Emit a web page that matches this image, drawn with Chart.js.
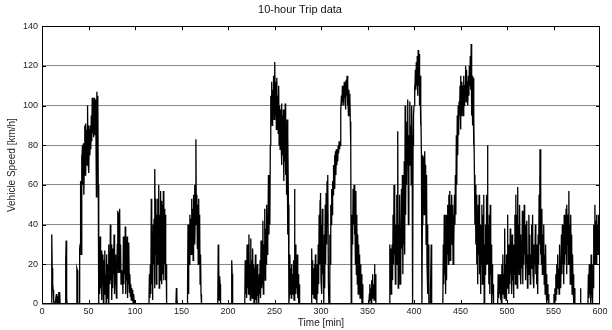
<!DOCTYPE html>
<html lang="en">
<head>
<meta charset="UTF-8">
<title>10-hour Trip data</title>
<script src="https://cdn.jsdelivr.net/npm/chart.js@4/dist/chart.umd.min.js"></script>
<style>
    html, body { margin: 0; padding: 0; background: #fff; }
    #wrap { width: 612px; height: 330px; }
</style>
</head>
<body>
<div id="wrap"><canvas id="tripChart" width="612" height="330"></canvas></div>
<script>
// speeds, one sample every half minute, per driving leg
const sampleStep = 0.5;
const legStart = [10, 37, 61.5, 115, 144, 156, 189, 203.5, 218, 289.5, 351.5, 373.5, 431, 490, 550, 578.5, 587];

const legA = [0,35,18,10,7,2,0,0,0,0,0,5,0,4,0,0,6,2,6,0,0,0,0,0,0,0,0,0,0,0,0,22,32,3,0];
const legB = [0,18,17,0,0,0,0,28,30,62,25,75,70,80,60,81,55,72,90,65,91,75,88,70,100,73,90,66,88,75,90,78,95,82,104,86,102,84,104,85,103,88,100,54,107,86,105,60,0];
const legC = [30,5,34,8,26,2,27,10,25,0,22,5,27,12,15,0,25,3,20,8,30,0,26,10,40,12,30,2,28,8,22,15,35,5,25,10,18,3,17,30,47,16,46,17,48,16,30,10,17,14,16,5,34,10,30,15,39,5,25,12,34,3,18,10,31,6,15,4,10,2,8,3,7,0,5,2,0];
const legD = [0,15,3,20,5,53,10,35,2,40,20,43,8,68,25,53,10,45,20,53,30,60,8,45,12,57,20,52,10,50,15,57,12,48,20,45,12,20,0];
const legE = [0,8,3,0];
const legF = [0,8,40,5,38,20,45,28,43,25,53,30,48,22,55,35,60,30,50,83,40,55,28,50,20,53,25,45,10,25,5,0];
const legG = [0,30,20,2,14,10,0];
const legH = [0,22,15,0];
const legI = [0,22,5,20,3,30,8,25,5,35,10,20,2,33,8,22,3,28,5,20,0,18,5,25,2,15,0,20,4,12,0,15,5,22,3,32,8,25,10,42,5,30,15,48,12,38,20,50,25,42,30,65,35,55,40,80,105,95,112,90,108,100,115,93,110,122,95,112,88,114,92,105,86,110,80,100,78,98,85,101,70,95,75,98,62,92,72,101,65,90,55,93,35,85,50,0,5,25,10,18,3,20,5,15,8,22,2,58,10,30,5,20,8,25,3,15,0,10,0];
const legJ = [0,28,5,22,10,18,3,20,8,25,2,12,0,20,5,30,10,45,20,52,56,12,40,5,48,15,30,0,35,8,50,20,56,30,62,40,65,10,0,0,35,20,50,40,58,45,62,55,70,60,75,58,77,65,78,70,75,72,80,76,82,78,80,90,98,105,100,110,102,108,100,112,104,110,98,113,105,115,100,110,95,108,100,106,92,80,0,20,45,30,58,40,60,35,55,20,57,15,45,10,35,5,30,12,25,3,20,5,15,0,10,0];
const legK = [0,5,10,2,8,0,12,3,15,5,10,2,20,8,15,0];
const legL = [0,30,10,28,5,20,30,12,45,20,60,25,48,10,40,20,55,25,87,8,40,15,55,10,35,20,58,28,65,15,45,30,72,25,100,45,80,60,92,70,103,40,85,70,102,75,90,60,100,85,0,80,95,100,110,105,118,108,122,110,125,105,128,110,126,100,115,90,100,75,0,40,75,55,74,45,77,62,70,30,65,20,40,5,30,0,0,0,0,0,30,0];
const legM = [0,30,10,45,15,35,5,45,12,40,25,50,20,55,30,57,22,50,35,55,30,50,20,45,30,55,40,65,45,85,60,95,75,100,85,102,95,110,88,115,95,112,100,110,95,115,100,108,110,120,102,118,105,112,100,115,105,120,110,125,108,131,95,115,90,114,80,95,65,40,60,30,55,20,45,10,50,25,55,15,40,5,35,20,50,10,45,25,55,0,30,15,40,20,55,30,80,20,40,10,45,5,50,15,30,0,20,5,10,0];
const legN = [0,15,3,12,5,15,2,10,0,20,5,25,8,15,3,38,10,20,2,25,8,45,12,30,5,20,10,38,15,25,5,35,12,20,3,30,15,45,10,55,20,45,8,59,25,40,15,50,20,35,10,30,18,47,10,38,20,50,25,40,12,30,20,42,8,25,15,45,20,35,10,25,18,40,22,45,15,30,8,25,20,40,15,30,10,22,5,35,20,55,30,78,25,45,20,48,15,35,22,40,10,25,5,30,8,15,0,10,2,5,0];
const legO = [0,5,0,8,2,15,5,20,8,25,10,18,5,30,12,20,8,35,15,40,20,30,10,45,20,40,25,48,15,50,30,45,20,57,25,40,10,45,20,35,5,25,10,15,0,8,0];
const legP = [0,8,0];
const legQ = [0,15,3,20,5,12,0,25,10,5,0,20,8,40,20,50,25,42,20,45,30,40,25,45,30,42,35];

const legs = [legA, legB, legC, legD, legE, legF, legG, legH, legI, legJ, legK, legL, legM, legN, legO, legP, legQ];

const xTicks = [0, 50, 100, 150, 200, 250, 300, 350, 400, 450, 500, 550, 600];
const yTicks = [0, 20, 40, 60, 80, 100, 120, 140];

const points = [{ x: 0, y: 0 }];
legs.forEach((leg, i) => {
    leg.forEach((v, k) => points.push({ x: legStart[i] + k * sampleStep, y: v }));
});

// frame and the little inward tick marks
const frameTicks = {
    id: 'frameTicks',
    afterDraw(chart) {
        const { ctx, chartArea: a, scales } = chart;
        ctx.save();
        ctx.strokeStyle = '#000';
        ctx.lineWidth = 1;
        ctx.beginPath();
        xTicks.slice(1, -1).forEach(v => {
            const px = Math.round(scales.x.getPixelForValue(v)) + 0.5;
            ctx.moveTo(px, a.top); ctx.lineTo(px, a.top + 4);
            ctx.moveTo(px, a.bottom); ctx.lineTo(px, a.bottom - 4);
        });
        yTicks.slice(1, -1).forEach(v => {
            const py = Math.round(scales.y.getPixelForValue(v)) + 0.5;
            ctx.moveTo(a.left, py); ctx.lineTo(a.left + 4, py);
            ctx.moveTo(a.right, py); ctx.lineTo(a.right - 4, py);
        });
        ctx.stroke();
        ctx.strokeRect(Math.round(a.left) + 0.5, Math.round(a.top) + 0.5,
            Math.round(a.right - a.left) - 1, Math.round(a.bottom - a.top) - 1);
        ctx.restore();
    }
};

const font = 'Liberation Sans, Arial, sans-serif';

new Chart(document.getElementById('tripChart'), {
    type: 'line',
    data: {
        datasets: [{
            data: points,
            borderColor: '#000',
            borderWidth: 1.3,
            pointRadius: 0,
            tension: 0,
            fill: false
        }]
    },
    options: {
        responsive: false,
        animation: false,
        events: [],
        layout: { padding: { left: 0, right: 12, top: 0, bottom: 0 } },
        plugins: {
            legend: { display: false },
            tooltip: { enabled: false },
            title: {
                display: true,
                text: '10-hour Trip data',
                color: '#111',
                font: { family: font, size: 11, weight: 'normal', lineHeight: 1.2 },
                padding: { top: 3, bottom: 10 }
            }
        },
        scales: {
            x: {
                type: 'linear',
                min: 0,
                max: 600,
                afterFit: s => { s.height = 26; },
                afterBuildTicks: s => { s.ticks = xTicks.map(v => ({ value: v })); },
                ticks: { color: '#222', font: { family: font, size: 9 }, padding: 2, maxRotation: 0, autoSkip: false },
                grid: { display: false, drawTicks: false },
                border: { display: false },
                title: {
                    display: true,
                    text: 'Time [min]',
                    color: '#222',
                    font: { family: font, size: 10 },
                    padding: { top: 0, bottom: 1 }
                }
            },
            y: {
                min: 0,
                max: 140,
                afterFit: s => { s.width = 42; },
                afterBuildTicks: s => { s.ticks = yTicks.map(v => ({ value: v })); },
                ticks: { color: '#222', font: { family: font, size: 9 }, padding: 4 },
                grid: { color: '#888', lineWidth: 1, drawTicks: false },
                border: { display: false },
                title: {
                    display: true,
                    text: 'Vehicle Speed [km/h]',
                    color: '#222',
                    font: { family: font, size: 10 },
                    padding: { top: 6, bottom: 0 }
                }
            }
        }
    },
    plugins: [frameTicks]
});
</script>
</body>
</html>
